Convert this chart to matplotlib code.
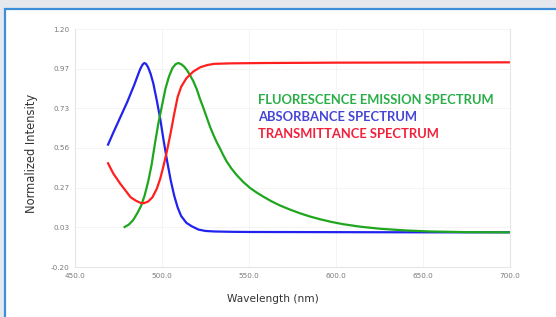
import matplotlib
matplotlib.use("Agg")
import matplotlib.pyplot as plt
from matplotlib.patches import Rectangle

# absorbance spectrum (blue)
abs_wl = [469, 472, 476, 480, 484, 486, 487.5, 488.8, 489.8, 490.8, 492, 493.5, 495,
          497, 499, 501, 503, 505, 507, 509, 511, 514, 517, 521, 525, 530, 540, 550,
          600, 650, 700]
abs_val = [0.52, 0.59, 0.68, 0.77, 0.87, 0.925, 0.965, 0.99, 1.0, 0.995, 0.975, 0.935,
           0.88, 0.78, 0.67, 0.54, 0.42, 0.31, 0.22, 0.15, 0.10, 0.06, 0.04, 0.02,
           0.012, 0.009, 0.007, 0.006, 0.005, 0.004, 0.004]

# fluorescence emission spectrum (green)
fl_wl = [478.5, 481, 483.5, 486, 488, 490, 492, 494, 496, 498, 500, 502, 504, 506,
         507.8, 509.4, 511, 512.6, 514.2, 516, 518, 520, 521.8, 523.8, 525.7, 527.6,
         529.5, 531.4, 533.3, 535.2, 537.2, 540, 542.9, 546.7, 550.6, 554.4, 558.2,
         563, 567.8, 573.5, 579.3, 585, 590.8, 597, 604, 614, 625.3, 640, 654, 675,
         700]
fl_val = [0.035, 0.05, 0.077, 0.12, 0.16, 0.22, 0.30, 0.40, 0.53, 0.65, 0.75, 0.85,
          0.92, 0.97, 0.993, 1.0, 0.993, 0.98, 0.96, 0.93, 0.893, 0.845, 0.79, 0.735,
          0.68, 0.625, 0.578, 0.535, 0.498, 0.458, 0.42, 0.378, 0.341, 0.30, 0.265,
          0.238, 0.214, 0.186, 0.162, 0.138, 0.116, 0.097, 0.081, 0.066, 0.052, 0.037,
          0.025, 0.015, 0.009, 0.005, 0.004]

# transmittance spectrum (red)
tr_wl = [469, 472, 476, 479, 482, 485, 487.5, 489.5, 492, 494.5, 497, 499, 501, 503,
         505, 507, 509, 511, 514, 518, 522, 526, 530, 540, 560, 600, 650, 700]
tr_val = [0.41, 0.35, 0.29, 0.25, 0.21, 0.19, 0.178, 0.175, 0.185, 0.21, 0.26, 0.32,
          0.40, 0.49, 0.59, 0.70, 0.80, 0.86, 0.91, 0.95, 0.975, 0.988, 0.995,
          0.998, 1.0, 1.002, 1.003, 1.004]

x_ticks = [450, 500, 550, 600, 650, 700]
x_labels = ["450.0", "500.0", "550.0", "600.0", "650.0", "700.0"]
y_ticks = [-0.2, 0.0333, 0.2667, 0.5, 0.7333, 0.9667, 1.2]
y_labels = ["-0.20", "0.03", "0.27", "0.56", "0.73", "0.97", "1.20"]

fig = plt.figure(figsize=(5.56, 3.17), dpi=100)
fig.patch.set_facecolor("#e5e9ed")
panel = Rectangle((5 / 556, -0.1), 1.2, 1 - 9 / 317 + 0.1, transform=fig.transFigure,
                  facecolor="white", edgecolor="#3d8fd9", linewidth=1.6, zorder=-5)
fig.patches.append(panel)

ax = fig.add_axes([75 / 556, 1 - 267 / 317, 435 / 556, 238 / 317])
ax.set_facecolor("none")
ax.plot(abs_wl, abs_val, color="#2222ee", lw=1.6)
ax.plot(fl_wl, fl_val, color="#1fa61f", lw=1.6)
ax.plot(tr_wl, tr_val, color="#ff1f1f", lw=1.6)

ax.set_xlim(450, 700)
ax.set_ylim(-0.2, 1.2)
ax.set_xticks(x_ticks)
ax.set_xticklabels(x_labels)
ax.set_yticks(y_ticks)
ax.set_yticklabels(y_labels)
ax.tick_params(length=0, labelsize=5.2, labelcolor="#7a7a7a", pad=4)
ax.grid(color="#f3f3f3", lw=0.6)
ax.spines["top"].set_visible(False)
for side in ["left", "bottom", "right"]:
    ax.spines[side].set_color("#e6e6e6")
    ax.spines[side].set_linewidth(0.8)

ax.set_xlabel("Wavelength (nm)", fontsize=7.6, color="#333333")
ax.xaxis.set_label_coords(0.455, -0.113)
ax.set_ylabel("Normalized Intensity", fontsize=8.3, color="#333333")
ax.yaxis.set_label_coords(-0.085, 0.479)

labels = [("FLUORESCENCE EMISSION SPECTRUM", "#2aae48", 100),
          ("ABSORBANCE SPECTRUM", "#4646d6", 117),
          ("TRANSMITTANCE SPECTRUM", "#f2203a", 134)]
for text, col, ypix in labels:
    fig.text(258 / 556, 1 - ypix / 317, text, color=col, fontsize=9.4,
             fontweight="bold", family="Lato", va="center", ha="left")

fig.savefig("out.png", dpi=100, facecolor=fig.get_facecolor())
